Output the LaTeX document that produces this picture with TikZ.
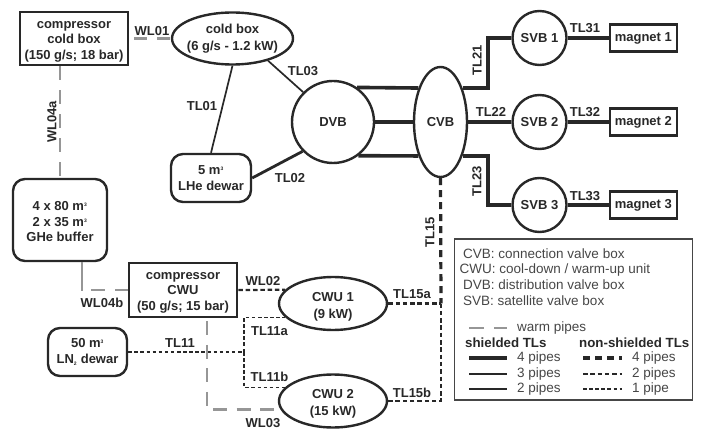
\documentclass[tikz,border=0pt]{standalone}
\usepackage{fontspec}
\setmainfont{Liberation Sans}
\usetikzlibrary{positioning,calc,shapes.geometric}
\definecolor{InkDark}{RGB}{40,40,40}
\definecolor{WarmGray}{RGB}{150,150,150}
\definecolor{LegendInk}{RGB}{70,70,70}
\newcommand{\dropline}[1]{\rule{0pt}{#1}}
\tikzset{
  warm/.style={line width=2.8pt,draw=WarmGray,dash pattern=on 14pt off 9.5pt},
  shieldfour/.style={line width=3.6pt,draw=InkDark},
  shieldthree/.style={line width=2.8pt,draw=InkDark},
  shieldtwo/.style={line width=1.7pt,draw=InkDark},
  openfour/.style={line width=3.2pt,draw=InkDark,dash pattern=on 7pt off 5pt},
  opentwo/.style={line width=2.2pt,draw=InkDark,dash pattern=on 4.5pt off 2.8pt},
  openone/.style={line width=1.4pt,draw=InkDark,dash pattern=on 3.5pt off 2.6pt},
  sqbox/.style={draw=InkDark,line width=2.8pt,fill=white,inner sep=0pt,align=center,text=InkDark,
    font=\fontsize{13}{15.5}\selectfont\bfseries},
  thinbox/.style={sqbox,line width=2.3pt},
  tank/.style={sqbox,line width=2.4pt,rounded corners=12pt},
  oval/.style={sqbox,ellipse,line width=2.4pt,inner sep=-8pt,
    font=\fontsize{13}{17}\selectfont\bfseries},
  valve/.style={sqbox,circle,line width=2.4pt},
  pipelabel/.style={inner sep=0pt,text=InkDark,font=\fontsize{13}{15}\selectfont\bfseries},
  legendtext/.style={inner sep=0pt,anchor=west,text=LegendInk,font=\fontsize{13.5}{15}\selectfont},
  legendhead/.style={legendtext,text=InkDark,font=\fontsize{13.3}{15}\selectfont\bfseries}
}
\begin{document}
\begin{tikzpicture}[x=1pt,y=-1pt]
  \useasboundingbox (0,0) rectangle (701,430);
  % cold side
  \node[sqbox,minimum width=108pt,minimum height=53pt] (cpcold) at (74,38.5) {\dropline{13pt}compressor\\cold box\\(150 g/s; 18 bar)};
  \node[oval,minimum width=121pt,minimum height=52pt] (coldbox) at (232.5,38.5) {cold box\\(6 g/s - 1.2 kW)};
  \node[valve,minimum width=82pt] (dvb) at (333,122) {DVB};
  \node[tank,minimum width=80pt,minimum height=48pt] (lhe) at (211,178) {5 m\textsuperscript{\tiny 3}\\LHe dewar};
  \node[tank,minimum width=94pt,minimum height=82pt] (buffer) at (60,220) {\dropline{13pt}4 x 80 m\textsuperscript{\tiny 3}\\2 x 35 m\textsuperscript{\tiny 3}\\GHe buffer};
  % distribution
  \node[oval,inner sep=0pt,minimum width=53pt,minimum height=110pt] (cvb) at (440.5,122) {CVB};
  \node[valve,minimum width=54pt] (svbone) at (539.5,38) {SVB 1};
  \node[valve,minimum width=54pt] (svbtwo) at (539.5,122) {SVB 2};
  \node[valve,minimum width=54pt] (svbthree) at (539.5,205) {SVB 3};
  \node[thinbox,minimum width=67pt,minimum height=27pt,right=41pt of svbone] (magone) {magnet 1};
  \node[thinbox,minimum width=67pt,minimum height=27pt,right=41pt of svbtwo] (magtwo) {magnet 2};
  \node[thinbox,minimum width=67pt,minimum height=27pt,right=41pt of svbthree] (magthree) {magnet 3};
  % cool-down side
  \node[sqbox,minimum width=108pt,minimum height=54pt] (cpcwu) at (183,290) {\dropline{12pt}compressor\\CWU\\(50 g/s; 15 bar)};
  \node[tank,minimum width=79pt,minimum height=48pt] (lntwo) at (87.5,352) {50 m\textsuperscript{\tiny 3}\\LN\textsubscript{\tiny 2} dewar};
  \node[oval,minimum width=108pt,minimum height=53pt] (cwuone) at (333,303.5) {\dropline{15pt}CWU 1\\(9 kW)};
  \node[oval,minimum width=108pt,minimum height=53pt] (cwutwo) at (333,401) {\dropline{15pt}CWU 2\\(15 kW)};
  \coordinate (tlsplit) at (244,352);
  \coordinate (tljoin) at (441,303.5);
  % warm pipes
  \draw[warm,dash pattern=on 13pt off 10pt,dash phase=18pt] (cpcold.east) -- (coldbox.west);
  \draw[warm,dash pattern=on 14pt off 10pt] (buffer.north |- cpcold.south) -- (buffer.north);
  \draw[warm,dash pattern=on 28pt off 9pt on 14pt off 10pt on 14pt off 10pt] ([xshift=22pt]buffer.south) |- (cpcwu.west);
  \draw[warm,dash phase=20.5pt] ([xshift=24pt]cpcwu.south) |- (cwutwo.189);
  % shielded lines
  \draw[shieldtwo] (coldbox.south) -- (lhe.north);
  \draw[shieldtwo] (coldbox.-32) -- (dvb.135);
  \draw[shieldthree] (lhe.east) -- (dvb.224);
  \draw[shieldfour] (dvb.55) -- (cvb.123);
  \draw[shieldfour] (dvb.east) -- (cvb.west);
  \draw[shieldfour] (dvb.-53) -- (cvb.237);
  \draw[shieldfour] (cvb.57) -| (488,60) |- (svbone.west);
  \draw[shieldfour] (cvb.east) -- (svbtwo.west);
  \draw[shieldfour] (cvb.-57) -| (488,180) |- (svbthree.west);
  \draw[shieldfour] (svbone.east) -- (magone.west);
  \draw[shieldfour] (svbtwo.east) -- (magtwo.west);
  \draw[shieldfour] (svbthree.east) -- (magthree.west);
  % non-shielded lines
  \draw[opentwo] (cpcwu.east) -- (cwuone.164);
  \draw[openfour] (cvb.south) -- (tljoin);
  \draw[opentwo] (cwuone.east) -- (tljoin);
  \draw[opentwo] (tljoin) |- (cwutwo.east);
  \draw[openone] (lntwo.east) -- (tlsplit);
  \draw[openone] (tlsplit) |- (cwuone.196);
  \draw[openone] (tlsplit) |- (cwutwo.164);
  % pipe labels
  \node[pipelabel] (wlone) at (152,31) {WL01};
  \node[pipelabel,rotate=90] (wlfoura) at (52,122) {WL04a};
  \node[pipelabel] (wlfourb) at (102,303) {WL04b};
  \node[pipelabel] (wltwo) at (263,281) {WL02};
  \node[pipelabel] (wlthree) at (263,423.5) {WL03};
  \node[pipelabel] (tlone) at (202,106) {TL01};
  \node[pipelabel] (tlthree) at (303,71) {TL03};
  \node[pipelabel] (tltwo) at (290,178) {TL02};
  \node[pipelabel,rotate=90] (tltwoone) at (477,60) {TL21};
  \node[pipelabel] (tltwotwo) at (491,112) {TL22};
  \node[pipelabel,rotate=90] (tltwothree) at (477,181) {TL23};
  \node[pipelabel] (tlthreeone) at (585,28) {TL31};
  \node[pipelabel] (tlthreetwo) at (585,112) {TL32};
  \node[pipelabel] (tlthreethree) at (585,196) {TL33};
  \node[pipelabel] (tleleven) at (180,343) {TL11};
  \node[pipelabel] (tlelevena) at (269.5,331) {TL11a};
  \node[pipelabel] (tlelevenb) at (269.5,377) {TL11b};
  \node[pipelabel,rotate=90] (tlfifteen) at (430,232) {TL15};
  \node[pipelabel] (tlfifteena) at (412,294) {TL15a};
  \node[pipelabel] (tlfifteenb) at (412,393) {TL15b};
  % legend
  \node[draw=LegendInk,line width=1.2pt,inner sep=0pt,minimum width=238pt,minimum height=161pt] (legend) at (573.5,319.5) {};
  \node[legendtext] (keycvb) at (463,254) {CVB: connection valve box};
  \node[legendtext] (keycwu) at (459.5,270) {CWU: cool-down / warm-up unit};
  \node[legendtext] (keydvb) at (463,285) {DVB: distribution valve box};
  \node[legendtext] (keysvb) at (463,301) {SVB: satellite valve box};
  \node[legendtext] (keywarm) at (517,328) {warm pipes};
  \node[legendhead] (keyshield) at (465,343) {shielded TLs};
  \node[legendhead] (keyopen) at (579,343) {non-shielded TLs};
  \node[legendtext] (keysfour) at (517,358) {4 pipes};
  \node[legendtext] (keysthree) at (517,374) {3 pipes};
  \node[legendtext] (keystwo) at (517,389) {2 pipes};
  \node[legendtext] (keyofour) at (632,358) {4 pipes};
  \node[legendtext] (keyotwo) at (632,374) {2 pipes};
  \node[legendtext] (keyoone) at (632,389) {1 pipe};
  \draw[warm,dash pattern=on 15pt off 10pt] ([xshift=-48pt]keywarm.west) -- ([xshift=-10pt]keywarm.west);
  \draw[shieldfour] ([xshift=-48pt]keysfour.west) -- ([xshift=-10pt]keysfour.west);
  \draw[shieldthree] ([xshift=-48pt]keysthree.west) -- ([xshift=-10pt]keysthree.west);
  \draw[shieldtwo] ([xshift=-48pt]keystwo.west) -- ([xshift=-10pt]keystwo.west);
  \draw[openfour] ([xshift=-49pt]keyofour.west) -- ([xshift=-10pt]keyofour.west);
  \draw[opentwo] ([xshift=-49pt]keyotwo.west) -- ([xshift=-10pt]keyotwo.west);
  \draw[openone] ([xshift=-49pt]keyoone.west) -- ([xshift=-10pt]keyoone.west);
\end{tikzpicture}
\end{document}
